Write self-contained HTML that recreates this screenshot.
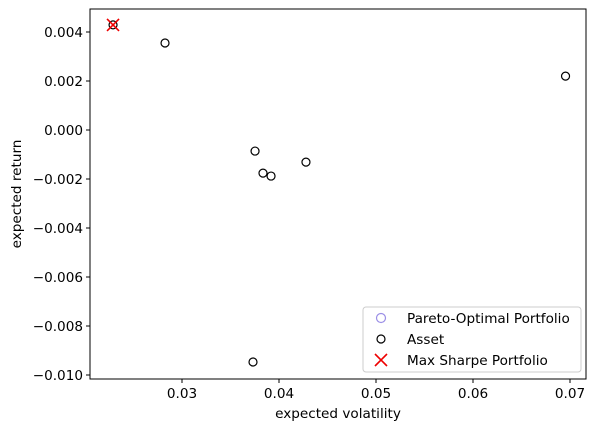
<!DOCTYPE html>
<html><head><meta charset="utf-8"><style>
body{margin:0;background:#fff}
svg text{font-family:"DejaVu Sans","Liberation Sans",sans-serif;font-size:13.6px;fill:#000}
</style></head><body>
<svg id="chart" width="596" height="432" xmlns="http://www.w3.org/2000/svg">
<rect width="596" height="432" fill="#fff"/>
<g id="ticks"></g>
<g id="marks"></g>
<rect x="90" y="9" width="496" height="370" fill="none" stroke="#000" stroke-width="1"/>
<text x="338" y="418" text-anchor="middle">expected volatility</text>
<text transform="translate(21,194) rotate(-90)" text-anchor="middle">expected return</text>
<g>
<rect x="363" y="307" width="218" height="65" rx="3" fill="#fff" fill-opacity="0.8" stroke="#ccc"/>
<g><circle cx="381" cy="318" r="4.5" fill="none" stroke="#9b8fe6" stroke-width="1.2"/><text x="407" y="323">Pareto-Optimal Portfolio</text></g>
<g><circle cx="381" cy="339" r="4" fill="none" stroke="#000" stroke-width="1.2"/><text x="407" y="344">Asset</text></g>
<g><path d="M375 354L387 366M387 354L375 366" stroke="#e00" stroke-width="1.6"/><text x="407" y="365">Max Sharpe Portfolio</text></g>
</g>
</svg>
<script>
const assetVol=[0.02289,0.02825,0.06954,0.03753,0.03835,0.03918,0.04278,0.03732];
const assetRet=[0.00429,0.00355,0.00220,-0.00086,-0.00176,-0.00188,-0.00131,-0.00947];
const maxSharpeVol=[0.02289];
const maxSharpeRet=[0.00429];
const xTicks=[0.03,0.04,0.05,0.06,0.07];
const yTicks=[0.004,0.002,0,-0.002,-0.004,-0.006,-0.008,-0.010];
const xs=v=>182+(v-0.03)*9700;
const ys=v=>130-v*24500;
const NS='http://www.w3.org/2000/svg';
const tk=document.getElementById('ticks'),mk=document.getElementById('marks');
function el(t,a,p){const e=document.createElementNS(NS,t);for(const k in a)e.setAttribute(k,a[k]);p.appendChild(e);return e;}
xTicks.forEach(v=>{const x=xs(v);
const l=el('line',{x1:x,x2:x,y1:379,y2:383,stroke:'#000'},tk);


const t=el('text',{x:x,y:398,'text-anchor':'middle'},tk);t.textContent=v.toFixed(2);

});
yTicks.forEach(v=>{const y=ys(v);
const l=el('line',{x1:86,x2:90,y1:y,y2:y,stroke:'#000'},tk);


const t=el('text',{x:83,y:y+5,'text-anchor':'end'},tk);t.textContent=(v<0?'\u2212':'')+Math.abs(v).toFixed(3);

});
assetVol.forEach((v,i)=>{const c=el('circle',{cx:xs(v),cy:ys(assetRet[i]),r:4,fill:'none',stroke:'#000','stroke-width':1.2},mk);

});
maxSharpeVol.forEach((v,i)=>{const x=xs(v),y=ys(maxSharpeRet[i]);
const p=el('path',{d:`M${x-6} ${y-6}L${x+6} ${y+6}M${x+6} ${y-6}L${x-6} ${y+6}`,stroke:'#e00','stroke-width':1.6},mk);

});
</script>
</body></html>
